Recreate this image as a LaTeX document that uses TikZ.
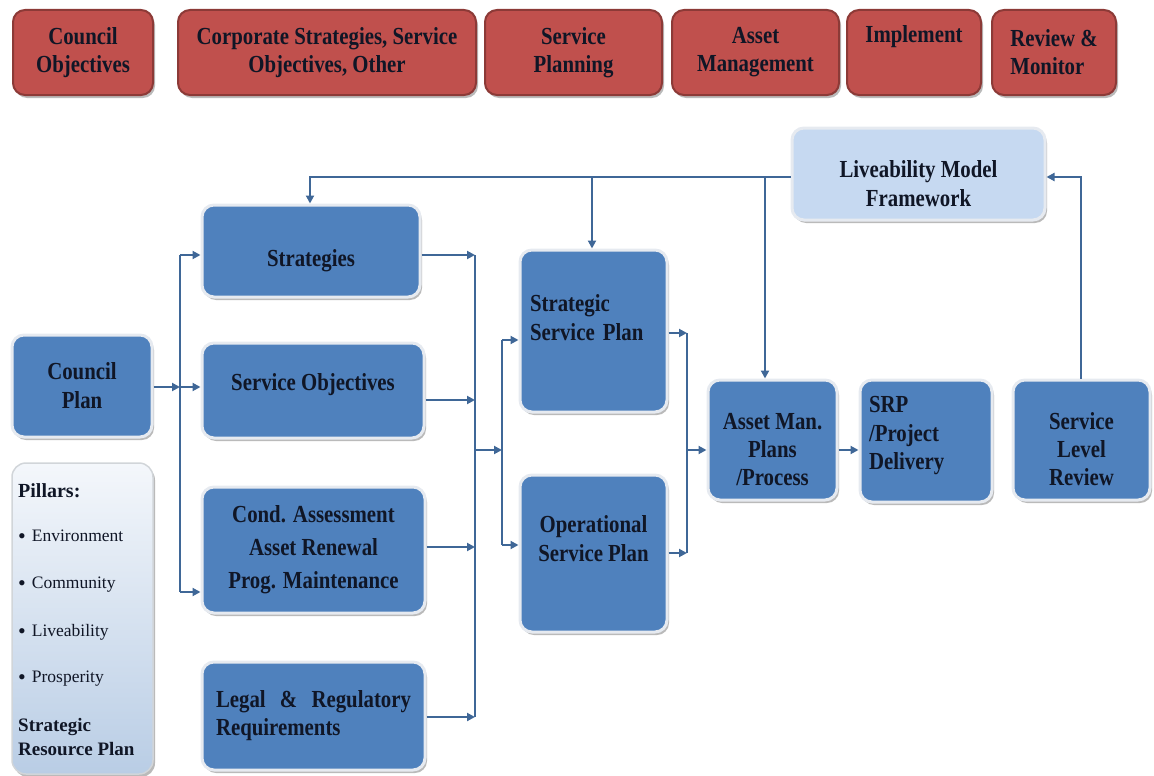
\documentclass[tikz,border=0pt]{standalone}
\usepackage{fontspec}
\setmainfont{Liberation Serif}[FakeStretch=0.85]
\newfontfamily\plainfont{Liberation Serif}
\usetikzlibrary{arrows.meta,shadows}
\definecolor{redfill}{HTML}{C0504D}
\definecolor{reddraw}{HTML}{8C3A37}
\definecolor{bluefill}{HTML}{4F81BD}
\definecolor{bluerim}{HTML}{E6EAF0}
\definecolor{lightfill}{HTML}{C6D9F1}
\definecolor{txt}{HTML}{101626}
\definecolor{conncol}{HTML}{3F6797}
\definecolor{pilltop}{HTML}{F4F7FB}
\definecolor{pillbot}{HTML}{B9CDE5}
\newcommand{\pbul}{\raisebox{-2.5pt}{\fontsize{22}{20}\selectfont\textbullet}\hspace{6pt}}
\tikzset{
  shad/.style={drop shadow={shadow xshift=2pt,shadow yshift=-3pt,fill=black!45,opacity=0.6}},
  redbox/.style={shad,rounded corners=12pt,fill=redfill,draw=reddraw,line width=2pt,
    text=txt,font=\fontsize{24.5}{28}\selectfont\bfseries,align=center,inner sep=0pt},
  bluebox/.style={shad,rounded corners=12pt,fill=bluefill,draw=bluerim,line width=3pt,
    text=txt,font=\fontsize{24.5}{29}\selectfont\bfseries,align=center,inner sep=0pt},
  lightbox/.style={bluebox,fill=lightfill},
  txtnode/.style={text=txt,inner sep=0pt,anchor=base west},
  pillreg/.style={txtnode,font=\plainfont\fontsize{17.5}{20}\selectfont},
  pillbold/.style={txtnode,font=\plainfont\fontsize{20}{22}\selectfont\bfseries},
  conn/.style={draw=conncol,line width=2pt},
  arr/.style={conn,-{Triangle[length=8pt,width=8pt]}},
}
\begin{document}
\begin{tikzpicture}[x=1pt,y=-1pt]
\useasboundingbox (0,0) rectangle (1154,776);
% top red row
\node[redbox,minimum width=140,minimum height=85] (r1) at (83,52.5) {Council\\Objectives};
\node[redbox,minimum width=298,minimum height=85] (r2) at (327,52.5) {Corporate Strategies, Service\\Objectives, Other};
\node[redbox,minimum width=177,minimum height=85] (r3) at (573.5,52.5) {Service\\Planning};
\node[redbox,minimum width=167,minimum height=85] (r4) at (755.5,52.5) {Asset\\Management};
\node[redbox,minimum width=134,minimum height=85] (r5) at (914,52.5) {Implement\\\strut};
\node[redbox,minimum width=124,minimum height=85,align=left] (r6) at (1054,52.5) {Review \&\\Monitor};
% blue boxes
\node[lightbox,minimum width=253,minimum height=92] (lmf) at (918.5,174) {\strut\\[-13pt]Liveability Model\\Framework};
\node[bluebox,minimum width=218,minimum height=92,text height=35pt,text depth=5pt] (strat) at (311,251) {Strategies};
\node[bluebox,minimum width=222,minimum height=95,text height=17pt,text depth=17pt] (so) at (313,390.5) {Service Objectives};
\node[bluebox,minimum width=223,minimum height=126,font=\fontsize{24.5}{33}\selectfont\bfseries] (cond) at (313.5,550) {Cond. Assessment\\Asset Renewal\\Prog. Maintenance};
\node[bluebox,minimum width=223,minimum height=108,align=left,font=\fontsize{24.5}{28}\selectfont\bfseries] (legal) at (313.5,716) {\makebox[195pt][s]{Legal \& Regulatory}\\Requirements};
\node[bluebox,minimum width=140,minimum height=102] (cp) at (82,386) {Council\\Plan};
\node[shad,rounded corners=14pt,top color=pilltop,bottom color=pillbot,draw=bluerim!80!gray,line width=1.5pt,minimum width=141,minimum height=311] (pill) at (82.5,618.5) {};
\node[bluebox,minimum width=147,minimum height=162,text width=127,align=left] (ssp) at (593.5,331) {Strategic\\Service Plan\\[-11pt]\strut};
\node[bluebox,minimum width=147,minimum height=157] (osp) at (593.5,553.5) {Operational\\Service Plan\\[-8pt]\strut};
\node[bluebox,minimum width=129,minimum height=120,font=\fontsize{24.5}{28}\selectfont\bfseries] (amp) at (772.5,440) {\strut\\[-12pt]Asset Man.\\Plans\\/Process};
\node[bluebox,minimum width=132,minimum height=122,text width=114,align=left,font=\fontsize{24.5}{28.5}\selectfont\bfseries] (srp) at (926,441) {SRP\\/Project\\Delivery\\[-21pt]\strut};
\node[bluebox,minimum width=137,minimum height=120,font=\fontsize{24.5}{28}\selectfont\bfseries] (slr) at (1081.5,440) {\strut\\[-12pt]Service\\Level\\Review};
% pillars text
\node[pillbold] (p1) at (18,497) {Pillars:};
\node[pillreg] (p2) at (18,541) {\pbul Environment};
\node[pillreg] (p3) at (18,588) {\pbul Community};
\node[pillreg] (p4) at (18,636) {\pbul Liveability};
\node[pillreg] (p5) at (18,682) {\pbul Prosperity};
\node[pillbold,font=\plainfont\fontsize{19}{22}\selectfont\bfseries] (p6) at (18,731) {Strategic};
\node[pillbold,font=\plainfont\fontsize{19}{22}\selectfont\bfseries] (p7) at (18,755) {Resource Plan};
% connector coordinates
\coordinate (b1) at (180,387);
\coordinate (lt) at (180,255);
\coordinate (lb) at (180,592);
\coordinate (rt) at (475,255);
\coordinate (r2c) at (475,400);
\coordinate (r3c) at (475,547);
\coordinate (rb) at (475,717);
\coordinate (rm) at (475,450);
\coordinate (m1) at (502,450);
\coordinate (mt) at (502,340);
\coordinate (mb) at (502,545);
\coordinate (qt) at (687,333);
\coordinate (qb) at (687,553);
\coordinate (qm) at (687,450);
\coordinate (sl) at (310,177);
\coordinate (ss) at (592,177);
\coordinate (sa) at (765,177);
\coordinate (sr) at (1081,177);
% left bus
\draw[arr] (cp.east|-b1) -- (b1);
\draw[arr] (b1) -- (so.west|-b1);
\draw[conn] (lt) -- (lb);
\draw[arr] (lt) -- (strat.west|-lt);
\draw[arr] (lb) -- (cond.west|-lb);
% right bus
\draw[conn] (rt) -- (rb);
\draw[arr] (strat.east|-rt) -- (rt);
\draw[arr] (so.east|-r2c) -- (r2c);
\draw[arr] (cond.east|-r3c) -- (r3c);
\draw[arr] (legal.east|-rb) -- (rb);
\draw[arr] (rm) -- (m1);
\draw[conn] (mt) -- (mb);
\draw[arr] (mt) -- (ssp.west|-mt);
\draw[arr] (mb) -- (osp.west|-mb);
% plans bus
\draw[arr] (ssp.east|-qt) -- (qt);
\draw[arr] (osp.east|-qb) -- (qb);
\draw[conn] (qt) -- (qb);
\draw[arr] (qm) -- (amp.west|-qm);
\draw[arr] (amp.east|-qm) -- (srp.west|-qm);
% feedback
\draw[arr] (slr.north-|sr) -- (sr) -- (lmf.east|-sr);
\draw[arr] (lmf.west|-sl) -- (sl) -- (strat.north-|sl);
\draw[arr] (ss) -- (ssp.north-|ss);
\draw[arr] (sa) -- (amp.north-|sa);
\end{tikzpicture}
\end{document}
